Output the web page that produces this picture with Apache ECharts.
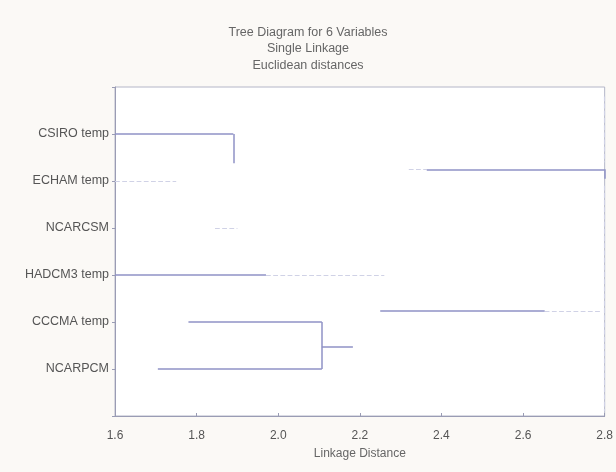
<!DOCTYPE html>
<html>
<head>
<meta charset="utf-8">
<script src="https://cdn.jsdelivr.net/npm/echarts@6/dist/echarts.min.js"></script>
<style>
html,body{margin:0;padding:0;background:#fbf9f6;}
#chart{width:616px;height:472px;}
</style>
</head>
<body>
<div id="chart"></div>
<script>
// Leaves (top to bottom) at positions 1..6
const leafNames = ['CSIRO temp', 'ECHAM temp', 'NCARCSM', 'HADCM3 temp', 'CCCMA temp', 'NCARPCM'];
const leafPositions = [1, 2, 3, 4, 5, 6];
const tickLabels = ['1.6', '1.8', '2.0', '2.2', '2.4', '2.6', '2.8'];
const titleLines = ['Tree Diagram for 6 Variables', 'Single Linkage', 'Euclidean distances'];

// Dendrogram branches as [distanceFrom, position, distanceTo, position]
const solidBranches = [
  [1.60, 1, 1.89, 1],
  [1.89, 1, 1.89, 1.62],
  [1.60, 4, 1.97, 4],
  [1.78, 5, 2.107, 5],
  [1.705, 6, 2.107, 6],
  [2.107, 5, 2.107, 6],
  [2.107, 5.53, 2.183, 5.53],
  [2.25, 4.77, 2.653, 4.77],
  [2.364, 1.75, 2.80, 1.75],
  [2.80, 1.75, 2.80, 1.95]
];
const faintBranches = [
  [1.60, 2, 1.75, 2],
  [1.845, 3, 1.90, 3],
  [1.97, 4, 2.26, 4],
  [2.653, 4.77, 2.79, 4.77],
  [2.32, 1.75, 2.364, 1.75],
  [2.80, 0.2, 2.80, 1.6],
  [2.80, 2.1, 2.80, 6.9]
];

const toLines = arr => arr.map(b => ({ coords: [[b[0], b[1]], [b[2], b[3]]] }));
const FONT = 'Liberation Sans, Arial, sans-serif';

const chart = echarts.init(document.getElementById('chart'), null, { renderer: 'canvas' });
chart.setOption({
  backgroundColor: '#fbf9f6',
  animation: false,
  title: {
    text: titleLines.join('\n'),
    left: 'center',
    top: 19,
    textStyle: {
      fontFamily: FONT,
      fontSize: 12.5,
      fontWeight: 'normal',
      color: '#666',
      lineHeight: 16.5
    }
  },
  grid: {
    left: 115, right: 11, top: 87, bottom: 56,
    show: true,
    backgroundColor: '#ffffff',
    borderColor: '#b4b6c8',
    borderWidth: 1
  },
  xAxis: {
    type: 'value',
    min: 1.6, max: 2.8, interval: 0.2,
    name: 'Linkage Distance',
    nameLocation: 'middle',
    nameGap: 32,
    nameTextStyle: { fontFamily: FONT, fontSize: 12, color: '#666' },
    axisLine: { show: true, onZero: false, lineStyle: { color: '#9a9cb4' } },
    axisTick: { show: true, inside: true, length: 3, lineStyle: { color: '#9a9cb4' } },
    splitLine: { show: false },
    axisLabel: {
      margin: 14,
      fontFamily: FONT,
      fontSize: 12,
      color: '#555',
      formatter: (v) => {
        const i = Math.round((v - 1.6) / 0.2);
        return tickLabels[i] !== undefined ? tickLabels[i] : '';
      }
    }
  },
  yAxis: {
    type: 'value',
    min: 0, max: 7, interval: 1,
    inverse: true,
    axisLine: { show: true, onZero: false, lineStyle: { color: '#9a9cb4' } },
    axisTick: { show: true, length: 3, lineStyle: { color: '#9a9cb4' } },
    splitLine: { show: false },
    axisLabel: {
      margin: 6,
      fontFamily: FONT,
      fontSize: 12.5,
      color: '#555',
      formatter: (v) => {
        const i = leafPositions.indexOf(Math.round(v));
        return i >= 0 ? leafNames[i] : '';
      }
    }
  },
  series: [
    {
      type: 'lines',
      coordinateSystem: 'cartesian2d',
      silent: true,
      lineStyle: { color: '#d0d2e6', width: 1.2, type: 'dashed', opacity: 1 },
      data: toLines(faintBranches)
    },
    {
      type: 'lines',
      coordinateSystem: 'cartesian2d',
      silent: true,
      lineStyle: { color: '#8f92c6', width: 1.5, type: 'solid', opacity: 1 },
      data: toLines(solidBranches)
    }
  ]
});
</script>
</body>
</html>
